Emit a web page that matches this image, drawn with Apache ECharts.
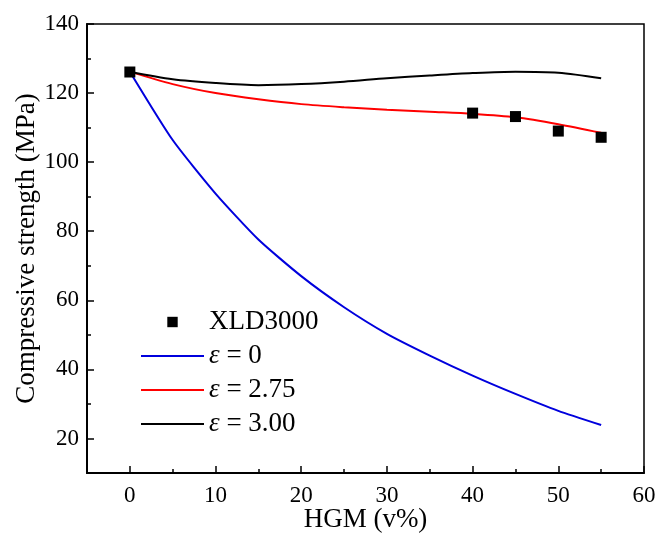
<!DOCTYPE html>
<html><head><meta charset="utf-8">
<script src="https://cdn.jsdelivr.net/npm/echarts@6/dist/echarts.min.js"></script>
<style>html,body{margin:0;padding:0;background:#fff}#c{width:655px;height:534px}</style>
</head><body><div id="c"></div>
<script>
const xFit = [0, 5, 10, 15, 20, 25, 30, 35, 40, 45, 50, 55];
const eps0 = [126.2, 106.4, 90.9, 77.6, 67.0, 58.0, 50.3, 44.0, 38.2, 32.9, 28.0, 23.9];
const eps275 = [126.2, 122.6, 120.0, 118.2, 116.8, 115.9, 115.2, 114.6, 114.0, 113.0, 111.0, 108.5];
const eps300 = [126.2, 124.0, 122.9, 122.3, 122.6, 123.3, 124.3, 125.1, 125.8, 126.2, 125.9, 124.3];
const xExp = [0, 40, 45, 50, 55];
const yExp = [126.1, 114.2, 113.2, 109.0, 107.2];
const xTicks = [0, 10, 20, 30, 40, 50, 60];
const xMinor = [-5, 5, 15, 25, 35, 45, 55];
const yTicks = [20, 40, 60, 80, 100, 120, 140];
const yMinor = [30, 50, 70, 90, 110, 130];

const pair = (xs, ys) => xs.map((x, i) => [x, ys[i]]);
const font = '"Liberation Serif", "Times New Roman", serif';
const chart = echarts.init(document.getElementById('c'));
const axisBase = {min: -5, max: 60};
chart.setOption({
  animation: false,
  grid: {left: 87, right: 11, top: 24, bottom: 61, show: true, borderColor: '#000', borderWidth: 1.5, containLabel: false, outerBoundsMode: 'none'},
  xAxis: [
    Object.assign({type: 'value', name: 'HGM (v%)', nameLocation: 'middle', nameGap: 33, nameMoveOverlap: false,
      nameTextStyle: {fontFamily: font, fontSize: 27, color: '#000'},
      axisLine: {show: true, onZero: false, lineStyle: {color: '#000', width: 2}},
      axisTick: {show: true, inside: true, length: 7, lineStyle: {color: '#000', width: 1.5}, customValues: xTicks},
      axisLabel: {fontFamily: font, fontSize: 23, color: '#000', margin: 11, customValues: xTicks},
      splitLine: {show: false}}, axisBase),
    Object.assign({type: 'value', position: 'bottom', gridIndex: 0,
      axisLine: {show: false, onZero: false},
      axisTick: {show: true, inside: true, length: 4, lineStyle: {color: '#000', width: 1.5}, customValues: xMinor},
      axisLabel: {show: false}, splitLine: {show: false}}, axisBase)
  ],
  yAxis: [
    {type: 'value', min: 10, max: 140, name: 'Compressive strength (MPa)', nameLocation: 'middle', nameGap: 47, nameMoveOverlap: false,
      nameTextStyle: {fontFamily: font, fontSize: 27, color: '#000'},
      axisLine: {show: true, onZero: false, lineStyle: {color: '#000', width: 2}},
      axisTick: {show: true, inside: true, length: 7, lineStyle: {color: '#000', width: 1.5}, customValues: yTicks},
      axisLabel: {fontFamily: font, fontSize: 23, color: '#000', margin: 8, customValues: yTicks},
      splitLine: {show: false}},
    {type: 'value', min: 10, max: 140, position: 'left',
      axisLine: {show: false, onZero: false},
      axisTick: {show: true, inside: true, length: 4, lineStyle: {color: '#000', width: 1.5}, customValues: yMinor},
      axisLabel: {show: false}, splitLine: {show: false}}
  ],
  legend: {
    left: 135, top: 303, orient: 'vertical', itemWidth: 63, itemHeight: 13, itemGap: 6,
    textStyle: {fontFamily: font, fontSize: 27, lineHeight: 28, color: '#000', rich: {i: {fontFamily: font, fontSize: 27, lineHeight: 28, fontStyle: 'italic', color: '#000'}}},
    formatter: function (n) { return n.replace('ε', '{i|ε}'); },
    data: [
      {name: 'XLD3000'},
      {name: 'ε = 0', itemStyle: {opacity: 0}},
      {name: 'ε = 2.75', itemStyle: {opacity: 0}},
      {name: 'ε = 3.00', itemStyle: {opacity: 0}}
    ]
  },
  series: [
    {name: 'ε = 0', type: 'line', data: pair(xFit, eps0), symbol: 'none', smooth: 0.2, lineStyle: {color: '#0000dd', width: 2}, itemStyle: {color: '#0000dd'}, z: 2},
    {name: 'ε = 2.75', type: 'line', data: pair(xFit, eps275), symbol: 'none', smooth: 0.3, lineStyle: {color: '#ff0000', width: 2}, itemStyle: {color: '#ff0000'}, z: 2},
    {name: 'ε = 3.00', type: 'line', data: pair(xFit, eps300), symbol: 'none', smooth: 0.3, lineStyle: {color: '#000', width: 2}, itemStyle: {color: '#000'}, z: 2},
    {name: 'XLD3000', type: 'line', data: pair(xExp, yExp), symbol: 'rect', symbolSize: 11, showSymbol: true,
      lineStyle: {opacity: 0, width: 0}, itemStyle: {color: '#000', opacity: 1}, z: 3}
  ]
});
</script></body></html>
